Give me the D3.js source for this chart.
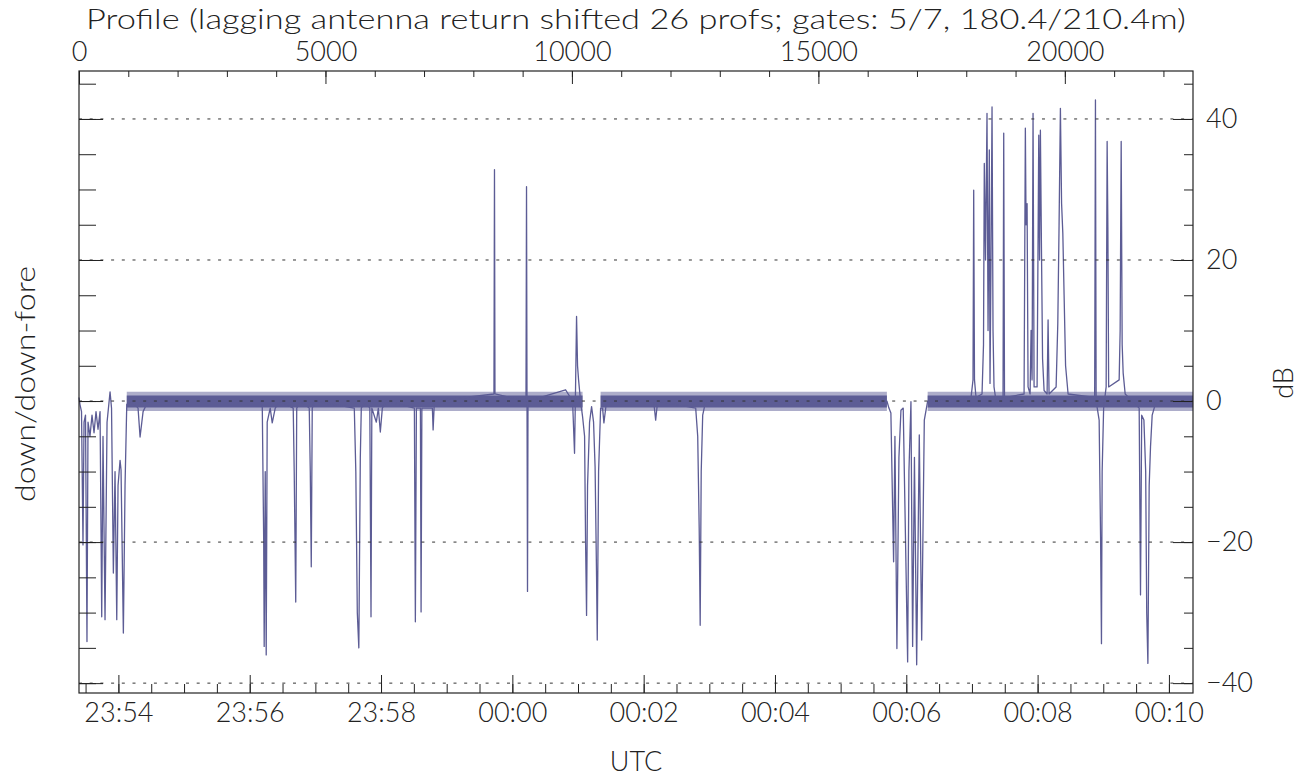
<!DOCTYPE html>
<html>
<head>
<meta charset="utf-8">
<script src="https://cdn.jsdelivr.net/npm/d3@7"></script>
<style>
body { margin: 0; background: #fff; }
text { font-family: Lato, "DejaVu Sans", sans-serif; font-weight: 300; fill: #222; }
</style>
</head>
<body>
<div id="chart"></div>
<script>
// tick labels
const profileTicks = [0, 5000, 10000, 15000, 20000];
const timeTicks = ["23:54", "23:56", "23:58", "00:00", "00:02", "00:04", "00:06", "00:08", "00:10"];
const dbTicks = [-40, -20, 0, 20, 40];

// axis ranges
const profileRange = [0, 22600];
const timeRange = ["23:53:24", "00:10:22"];
const dbRange = [-41.4, 46.8];

// quiet stretches where the trace is only the noise band around 0 dB
const quietSpans = [[969, 10216], [10582, 16390], [17217, 22600]];
const noiseBand = [-0.9, 0.8];
const noiseFringe = [-1.4, 1.3];

// trace vertices [profile, dB]
const trace = [
    [0, 0.5], [20, -0.5], [51, -1.5], [81, -20.4], [102, -3], [132, -2], [162, -34.1], [183, -3],
    [223, -5], [264, -2], [305, -4.5], [345, -1.5], [386, -4], [427, -1.5], [461, -30.6], [487, -5],
    [528, -31], [569, -3], [630, 1.3], [660, -1], [697, -24.4], [731, -10], [766, -31], [792, -12],
    [833, -8.4], [853, -9.8], [900, -32.9], [934, -12], [969, -0.5], [1036, 0], [1137, -0.5],
    [1198, -1], [1239, -5.1], [1300, -1.5], [1401, 0],
    [3717, 0], [3747, -20], [3757, -34.8], [3778, -10], [3798, -36], [3818, -3], [3879, -1],
    [3920, -3.1], [3981, -1], [4082, 0],
    [4346, -1], [4366, -10], [4397, -28.5], [4417, -1], [4488, 0],
    [4671, -1], [4692, -10], [4712, -23.5], [4732, -1], [4793, 0],
    [5585, -1], [5616, -10], [5646, -30], [5677, -35], [5707, -8], [5727, -1], [5809, 0],
    [5900, -1], [5924, -30.6], [5941, -1], [6032, -3], [6073, -1], [6113, -4.4], [6154, -1], [6235, 0],
    [6804, -1], [6824, -31.3], [6845, -1], [6926, -1], [6940, -29.9], [6956, -1],
    [7169, -1], [7184, -4.1], [7210, 0],
    [8418, 1], [8429, 32.8], [8439, 1],
    [9068, 0], [9079, 30.4], [9089, 0], [9099, -27], [9109, 0],
    [9871, 1.6], [10013, 0], [10053, -7.4], [10074, 2], [10094, 12], [10114, 5], [10135, 3],
    [10175, 0], [10216, -2.2], [10257, -5], [10277, -20], [10297, -30.4], [10317, -12], [10358, -3],
    [10399, -0.8], [10439, -3], [10470, -9.3], [10500, -25], [10514, -33.9], [10541, -10],
    [10582, -1], [10622, -1], [10649, -3.1], [10703, 0],
    [11658, 0], [11699, -2.7], [11739, 0],
    [12511, -1], [12552, -5], [12582, -18], [12602, -31.8], [12623, -10], [12653, -2], [12714, 0],
    [16390, 0], [16431, -1], [16471, -1.7], [16526, -22.8], [16553, -5], [16593, -35.1], [16634, -8],
    [16675, -1.3], [16721, -1], [16756, -15], [16811, -37], [16837, -10], [16878, -0.1],
    [16912, -34.8], [16949, -8], [16994, -37.4], [17047, -4.8], [17096, -33.9], [17149, -2.7], [17217, 0],
    [18097, 0.5], [18137, 3], [18151, 29.9], [18167, 3], [18198, 0.5],
    [18320, 1], [18350, 8], [18366, 33.7], [18391, 20], [18421, 40.8], [18442, 10], [18468, 35.6],
    [18482, 2.5], [18502, 20], [18523, 41.7], [18543, 10], [18563, 2], [18604, 0],
    [18746, 0.5], [18760, 38], [18776, 0.5],
    [19173, 1], [19199, 38.7], [19213, 25], [19234, 28], [19254, 2], [19295, 1], [19315, 10],
    [19335, 3], [19355, 40.8], [19376, 2], [19437, 2], [19471, 37.7], [19487, 20], [19504, 38.4],
    [19528, 20], [19548, 6], [19579, 1.5], [19640, 1], [19660, 11.5], [19680, 1],
    [19823, 2], [19857, 11], [19883, 25], [19910, 41.5], [19934, 28], [19959, 23.8], [19985, 15],
    [20015, 5], [20066, 1],
    [20605, 0.5], [20621, 42.7], [20635, 0], [20696, -2.7], [20726, -20], [20743, -34.4],
    [20757, -10], [20787, -1], [20838, 2], [20858, 36.8], [20873, 24.7], [20889, 2],
    [21102, 3], [21122, 10], [21143, 36.8], [21163, 8], [21183, 4], [21224, 1],
    [21508, -1], [21535, -27.5], [21559, -2], [21604, -2.7], [21640, -10], [21661, -30],
    [21685, -37.2], [21711, -12], [21738, -6.5], [21772, -2], [21854, 0], [22600, 0]
];

// set the dimensions and margins of the graph
const margin = { top: 71, right: 115, bottom: 85, left: 79 },
    width = 1308 - margin.left - margin.right,
    height = 778 - margin.top - margin.bottom;

const traceColor = "#5c5c95";

const svg = d3.select("#chart")
    .append("svg")
    .attr("width", 1308)
    .attr("height", 778)
    .append("g")
    .attr("transform", `translate(${margin.left}, ${margin.top})`);

// times after midnight belong to the next day
function toDate(s) {
    const [h, m, sec] = s.split(":").map(Number);
    return new Date(Date.UTC(2000, 0, h < 12 ? 2 : 1, h, m, sec || 0));
}

// scales
const x = d3.scaleLinear().domain(profileRange).range([0, width]);
const t = d3.scaleUtc().domain(timeRange.map(toDate)).range([0, width]);
const y = d3.scaleLinear().domain(dbRange).range([height, 0]);

// noise band: light fringe plus denser core
const bandArea = lim => d3.area()
    .x(d => x(d))
    .y0(y(lim[0]))
    .y1(y(lim[1]));

svg.selectAll("path.fringe")
    .data(quietSpans)
    .join("path")
    .attr("class", "fringe")
    .attr("d", d => bandArea(noiseFringe)(d))
    .attr("fill", traceColor)
    .attr("fill-opacity", 0.5);

svg.selectAll("path.band")
    .data(quietSpans)
    .join("path")
    .attr("class", "band")
    .attr("d", d => bandArea(noiseBand)(d))
    .attr("fill", traceColor);

// trace
const line = d3.line()
    .x(d => x(d[0]))
    .y(d => y(d[1]));

svg.append("path")
    .datum(trace)
    .attr("d", line)
    .attr("fill", "none")
    .attr("stroke", traceColor)
    .attr("stroke-width", 1.3)
    .attr("stroke-linejoin", "round");

// dotted grid lines
svg.selectAll("line.grid")
    .data(dbTicks)
    .join("line")
    .attr("class", "grid")
    .attr("x1", 0)
    .attr("x2", width)
    .attr("y1", d => y(d))
    .attr("y2", d => y(d))
    .attr("stroke", "#333")
    .attr("stroke-width", 1)
    .attr("stroke-dasharray", "3,7.7");

function styleAxis(g) {
    g.attr("color", "#222")
        .attr("font-size", 27);
    g.select(".domain").remove();
}

// left axis: ticks only
svg.append("g")
    .call(d3.axisLeft(y).tickValues(d3.range(-40, 46, 5)).tickSize(-17).tickFormat(""))
    .call(styleAxis);
svg.append("g")
    .call(d3.axisLeft(y).tickValues(dbTicks).tickSize(-24).tickFormat(""))
    .call(styleAxis);

// right axis with dB labels
svg.append("g")
    .attr("transform", `translate(${width}, 0)`)
    .call(d3.axisRight(y).tickValues(d3.range(-40, 46, 5)).tickSize(-9).tickFormat(""))
    .call(styleAxis);
svg.append("g")
    .attr("transform", `translate(${width}, 0)`)
    .call(d3.axisRight(y).tickValues(dbTicks).tickSize(-20).tickPadding(13).tickFormat(d3.format("d")))
    .call(styleAxis);

// top axis: profile
svg.append("g")
    .call(d3.axisTop(x).tickValues(d3.range(0, profileRange[1], 1000)).tickSize(-6).tickFormat(""))
    .call(styleAxis);
svg.append("g")
    .call(d3.axisTop(x).tickValues(profileTicks).tickSize(-13).tickPadding(10).tickFormat(d3.format("d")))
    .call(styleAxis);

// bottom axis: time
svg.append("g")
    .attr("transform", `translate(0, ${height})`)
    .call(d3.axisBottom(t).ticks(d3.utcSecond.every(30)).tickSize(-9).tickFormat(""))
    .call(styleAxis);
svg.append("g")
    .attr("transform", `translate(0, ${height})`)
    .call(d3.axisBottom(t).tickValues(timeTicks.map(toDate)).tickSize(-18).tickPadding(10)
        .tickFormat(d3.utcFormat("%H:%M")))
    .call(styleAxis);

// frame
svg.append("rect")
    .attr("width", width)
    .attr("height", height)
    .attr("fill", "none")
    .attr("stroke", "#222")
    .attr("stroke-width", 1.2);

// titles
svg.append("text")
    .attr("x", width / 2)
    .attr("y", -42)
    .attr("text-anchor", "middle")
    .attr("font-size", 27)
    .attr("textLength", 1100)
    .attr("lengthAdjust", "spacingAndGlyphs")
    .text("Profile (lagging antenna return shifted 26 profs; gates: 5/7, 180.4/210.4m)");

svg.append("text")
    .attr("x", width / 2)
    .attr("y", height + 78)
    .attr("text-anchor", "middle")
    .attr("font-size", 27)
    .text("UTC");

svg.append("text")
    .attr("transform", `translate(-44, ${height / 2 + 2}) rotate(-90)`)
    .attr("text-anchor", "middle")
    .attr("font-size", 27)
    .attr("textLength", 236)
    .attr("lengthAdjust", "spacingAndGlyphs")
    .text("down/down-fore");

svg.append("text")
    .attr("transform", `translate(${width + 100}, ${height / 2 + 1}) rotate(-90)`)
    .attr("text-anchor", "middle")
    .attr("font-size", 27)
    .text("dB");
</script>
</body>
</html>
